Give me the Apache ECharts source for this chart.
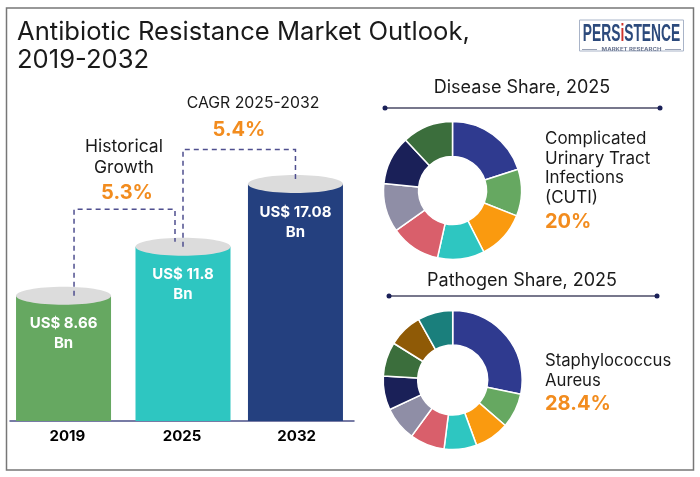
<!DOCTYPE html>
<html lang="en">
<head>
    <meta charset="UTF-8">
    <title>Antibiotic Resistance Market Outlook</title>
    <style>
        html, body { margin: 0; padding: 0; background: #fff; }
        #chart { width: 700px; height: 477px; }
    </style>
    <script src="https://cdn.jsdelivr.net/npm/echarts@6/dist/echarts.min.js"></script>
</head>
<body>
    <div id="chart"></div>
    <script>
        // chart values
        const years = ['2019', '2025', '2032'];
        const barLevels = [8.7, 12.1, 16.45]; // drawn heights, the picture is not quite to scale
        const barLabels = ['US$ 8.66', 'US$ 11.8', 'US$ 17.08'];
        const bridgeLevels = [14.7, 18.85];

        const diseaseNames = ['Complicated Urinary Tract Infections (CUTI)', 'Disease B', 'Disease C', 'Disease D', 'Disease E', 'Disease F', 'Disease G', 'Disease H'];
        const diseaseValues = [20, 11, 11.5, 11, 11.7, 11.4, 11.5, 11.9];
        const pathogenNames = ['Staphylococcus Aureus', 'Pathogen B', 'Pathogen C', 'Pathogen D', 'Pathogen E', 'Pathogen F', 'Pathogen G', 'Pathogen H', 'Pathogen I', 'Pathogen J'];
        const pathogenValues = [28.4, 8.1, 8.1, 7.6, 8.1, 8, 7.9, 8, 8, 8.2];

        const FONT = 'Inter, "Noto Sans", sans-serif';
        const ORANGE = '#f28c1e';
        const barColors = ['#66a861', '#2ec6c1', '#24407f'];
        const sliceColors = ['#2f3a8f', '#66a861', '#fa9a0f', '#2ec6c1', '#d95f6b', '#8f8ea6', '#1a2058', '#3b6e3c', '#8f5a06', '#1a7f7c'];
        const diseaseColors = sliceColors.slice(0, 8);

        const BAR_WIDTH = 95;
        const barShift = [-3.8, 1, -1.2];      // bars are not evenly spaced in the source
        const bridgeStart = [10.5, 0];
        const bridgeEnd = [-8, 0];

        function txt(x, y, text, size, opts) {
            opts = opts || {};
            return {
                type: 'text',
                silent: true,
                style: {
                    x: x, y: y + 1, text: text,
                    font: (opts.weight || 400) + ' ' + size + 'px ' + FONT,
                    fill: opts.color || '#1a1a1a',
                    align: opts.align || 'left',
                    verticalAlign: 'middle'
                }
            };
        }

        function rule(x1, x2, y) {
            return [
                { type: 'line', silent: true, shape: { x1: x1, y1: y, x2: x2, y2: y }, style: { stroke: '#77778c', lineWidth: 2 } },
                { type: 'circle', silent: true, shape: { cx: x1, cy: y, r: 2.5 }, style: { fill: '#1a2058' } },
                { type: 'circle', silent: true, shape: { cx: x2, cy: y, r: 2.5 }, style: { fill: '#1a2058' } }
            ];
        }

        // cylinder = rect from the axis plus a grey ellipse lid
        function renderCylinder(params, api) {
            const i = params.dataIndex;
            const top = api.coord([api.value(0), api.value(1)]);
            const base = api.coord([api.value(0), 0]);
            const cx = top[0] + barShift[i];
            return {
                type: 'group',
                children: [
                    { type: 'rect', shape: { x: cx - BAR_WIDTH / 2, y: top[1], width: BAR_WIDTH, height: base[1] - top[1] }, style: { fill: barColors[i] } },
                    { type: 'ellipse', shape: { cx: cx, cy: top[1], rx: BAR_WIDTH / 2, ry: 9 }, style: { fill: '#dcdcdc' } },
                    {
                        type: 'text',
                        style: {
                            x: cx, y: top[1] + 38, text: barLabels[i] + '\nBn',
                            font: '700 15px ' + FONT, fill: '#fff', align: 'center', verticalAlign: 'middle', lineHeight: 20
                        }
                    }
                ]
            };
        }

        // dashed bracket between one bar top and the next
        function renderBridge(params, api) {
            const i = params.dataIndex;
            const a = api.coord([years[i], barLevels[i]]);
            const b = api.coord([years[i + 1], barLevels[i + 1]]);
            const y = api.coord([years[i], api.value(1)])[1];
            const x1 = a[0] + barShift[i] + bridgeStart[i];
            const x2 = b[0] + barShift[i + 1] + bridgeEnd[i];
            return {
                type: 'polyline',
                shape: { points: [[x1, a[1]], [x1, y], [x2, y], [x2, b[1] - 5]] },
                style: { fill: null, stroke: '#4f4f8f', lineWidth: 1.5, lineDash: [5, 4] }
            };
        }

        function donut(names, values, colors, center, outer, inner) {
            return {
                type: 'pie',
                center: center,
                radius: [inner, outer],
                startAngle: 90,
                clockwise: true,
                silent: true,
                label: { show: false },
                labelLine: { show: false },
                itemStyle: { borderColor: '#fff', borderWidth: 1.5 },
                data: values.map((v, i) => ({ name: names[i], value: v, itemStyle: { color: colors[i] } }))
            };
        }

        const chart = echarts.init(document.getElementById('chart'), null, { renderer: 'canvas' });
        chart.setOption({
            animation: false,
            backgroundColor: '#fff',
            grid: { left: 10, top: 61, width: 344, height: 360 },
            xAxis: {
                type: 'category',
                data: years,
                axisTick: { show: false },
                axisLine: { lineStyle: { color: '#4b5088', width: 1.5 } },
                axisLabel: { color: '#000', fontFamily: FONT, fontWeight: 700, fontSize: 15, margin: 8 }
            },
            yAxis: { type: 'value', min: 0, max: 25, show: false },
            series: [
                {
                    type: 'custom',
                    silent: true,
                    renderItem: renderCylinder,
                    encode: { x: 0, y: 1 },
                    data: years.map((y, i) => [y, barLevels[i]])
                },
                {
                    type: 'custom',
                    silent: true,
                    z: 3,
                    renderItem: renderBridge,
                    encode: { x: 0, y: 1 },
                    data: bridgeLevels.map((l, i) => [years[i], l])
                },
                donut(diseaseNames, diseaseValues, diseaseColors, [452.5, 190.5], 69, 34),
                donut(pathogenNames, pathogenValues, sliceColors, [452.7, 380], 69.5, 35)
            ],
            graphic: {
                elements: [
                    { type: 'rect', silent: true, shape: { x: 6.5, y: 8, width: 687, height: 462 }, style: { fill: null, stroke: '#777', lineWidth: 1.5 } },

                    txt(17, 31, 'Antibiotic Resistance Market Outlook,', 25.6),
                    txt(17, 59, '2019-2032', 25.6),

                    txt(253, 102, 'CAGR 2025-2032', 15.8, { align: 'center' }),
                    txt(239, 129, '5.4%', 20, { align: 'center', weight: 700, color: ORANGE }),
                    txt(124, 146, 'Historical', 17.5, { align: 'center' }),
                    txt(124, 167, 'Growth', 17.5, { align: 'center' }),
                    txt(127, 192, '5.3%', 20, { align: 'center', weight: 700, color: ORANGE }),

                    txt(522, 87, 'Disease Share, 2025', 18, { align: 'center' }),
                    ...rule(385, 660, 108),
                    txt(545, 138, 'Complicated', 17),
                    txt(545, 158, 'Urinary Tract', 17),
                    txt(545, 177, 'Infections', 17),
                    txt(545, 197, '(CUTI)', 17),
                    txt(545, 221, '20%', 20, { weight: 700, color: ORANGE }),

                    txt(522, 280, 'Pathogen Share, 2025', 18, { align: 'center' }),
                    ...rule(389, 657, 296),
                    txt(545, 360, 'Staphylococcus', 16.7),
                    txt(545, 380, 'Aureus', 16.7),
                    txt(545, 403, '28.4%', 20, { weight: 700, color: ORANGE }),

                    // logo
                    { type: 'rect', silent: true, shape: { x: 579.5, y: 20, width: 104, height: 31 }, style: { fill: '#fff', stroke: '#a9b4c8', lineWidth: 1 } },
                    {
                        type: 'text', silent: true,
                        x: 631.5, y: 35, scaleX: 0.6,
                        style: {
                            x: 0, y: 0,
                            text: '{a|PERS}{b|i}{a|STENCE}',
                            align: 'center', verticalAlign: 'middle',
                            rich: {
                                a: { font: '700 23px "Liberation Sans", sans-serif', fill: '#2c4a7c' },
                                b: { font: '700 23px "Liberation Sans", sans-serif', fill: '#d0342c' }
                            }
                        }
                    },
                    { type: 'line', silent: true, shape: { x1: 582, y1: 49.5, x2: 597, y2: 49.5 }, style: { stroke: '#7f8aa3', lineWidth: 0.8 } },
                    { type: 'line', silent: true, shape: { x1: 665, y1: 49.5, x2: 681, y2: 49.5 }, style: { stroke: '#7f8aa3', lineWidth: 0.8 } },
                    {
                        type: 'text', silent: true,
                        x: 631.5, y: 49.5, scaleX: 1.25,
                        style: {
                            x: 0, y: 0, text: 'MARKET RESEARCH',
                            font: '700 4.8px ' + FONT, fill: '#6a7590', align: 'center', verticalAlign: 'middle'
                        }
                    }
                ]
            }
        });
    </script>
</body>
</html>
